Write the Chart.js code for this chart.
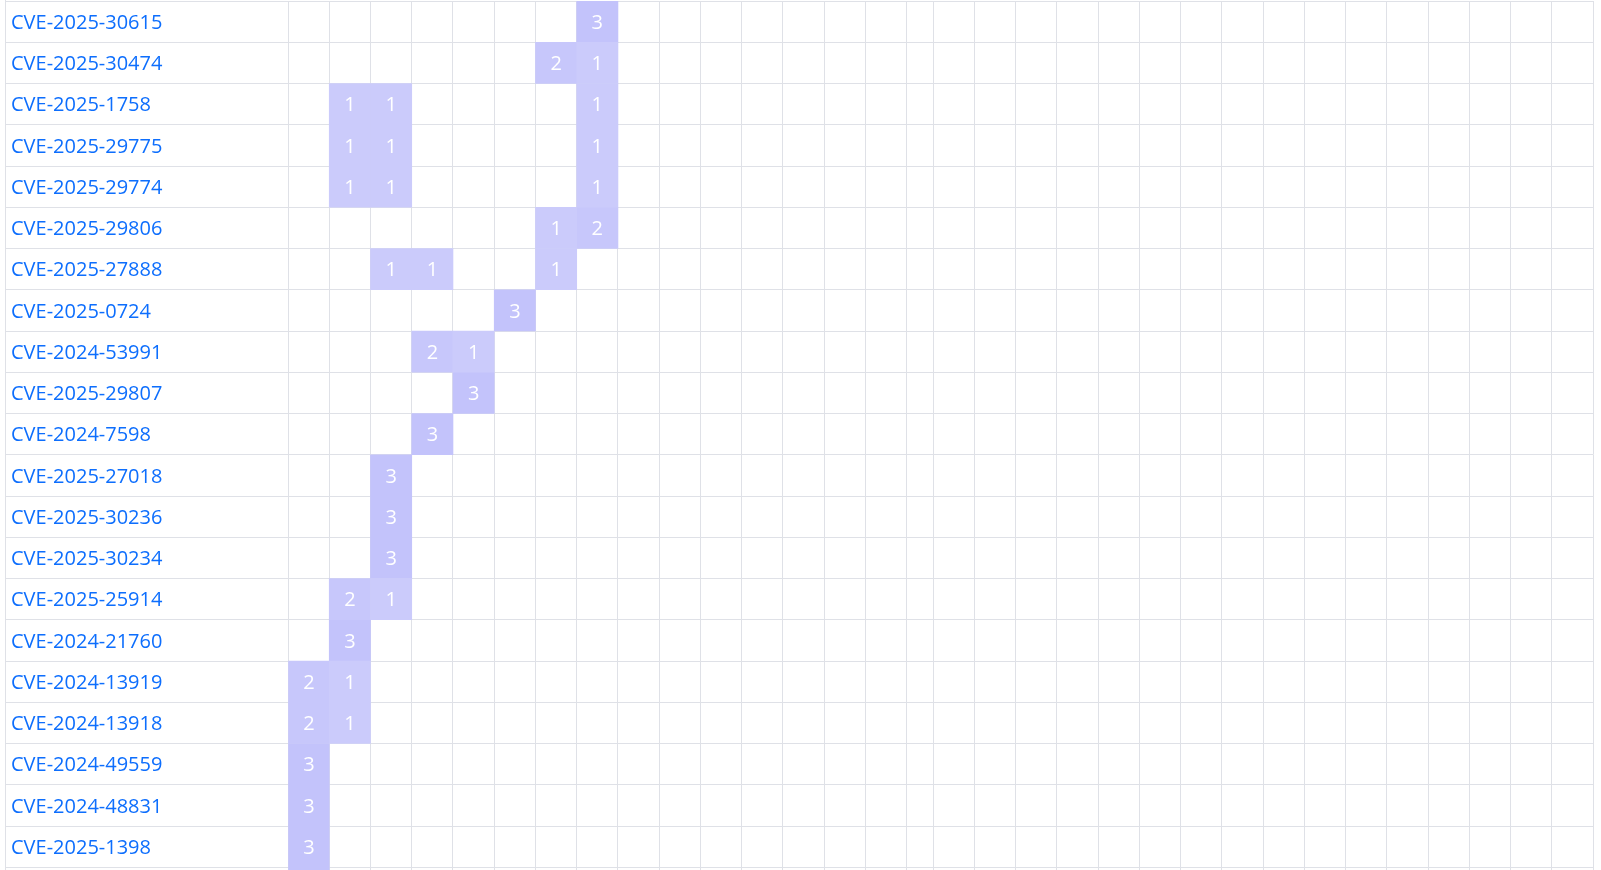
<!DOCTYPE html>
<html>
<head>
<meta charset="utf-8">
<script src="https://cdn.jsdelivr.net/npm/chart.js@4.4.1/dist/chart.umd.min.js"></script>
<style>
html,body{margin:0;padding:0;overflow:hidden;background:#ffffff;}
#wrap{position:relative;width:1601px;height:910px;}
</style>
</head>
<body>
<div id="wrap"><canvas id="c"></canvas></div>
<script>
// Row labels (top to bottom); the last row is only a sliver at the bottom edge
const cveLabels = [
  'CVE-2025-30615','CVE-2025-30474','CVE-2025-1758','CVE-2025-29775','CVE-2025-29774',
  'CVE-2025-29806','CVE-2025-27888','CVE-2025-0724','CVE-2024-53991','CVE-2025-29807',
  'CVE-2024-7598','CVE-2025-27018','CVE-2025-30236','CVE-2025-30234','CVE-2025-25914',
  'CVE-2024-21760','CVE-2024-13919','CVE-2024-13918','CVE-2024-49559','CVE-2024-48831',
  'CVE-2025-1398',''
];
// Column bin edges (one short bin)
const colEdges = [0,1,2,3,4,5,6,7,8,9,10,11,12,13,14,15,
  15.64,16.64,17.64,18.64,19.64,20.64,21.64,22.64,23.64,24.64,25.64,26.64,27.64,28.64,29.64,30.64,31.64];
// Cells: row index, column index, count
const cellRow   = [0,1,1,2,2,2,3,3,3,4,4,4,5,5,6,6,6,7,8,8,9,10,11,12,13,14,14,15,16,16,17,17,18,19,20,21];
const cellCol   = [7,6,7,1,2,7,1,2,7,1,2,7,6,7,2,3,6,5,3,4,4,3,2,2,2,1,2,1,0,1,0,1,0,0,0,0];
const cellCount = [3,2,1,1,1,1,1,1,1,1,1,1,1,2,1,1,1,3,2,1,3,3,3,3,3,2,1,3,2,1,2,1,3,3,3,3];
const countLevels = [1,2,3];
const countColors = ['#cbcbfb','#c7c7fb','#c3c3fb'];

const gridColor = '#dfe1e7';

const datasets = countLevels.map((lvl, k) => ({
  label: String(lvl),
  data: cellCount.map((c, i) => c === lvl ? {
    y: cveLabels[cellRow[i]],
    x: [colEdges[cellCol[i]], colEdges[cellCol[i] + 1]],
    v: c
  } : null).filter(d => d !== null),
  backgroundColor: countColors[k],
  borderWidth: 0,
  barPercentage: 1,
  categoryPercentage: 1,
  grouped: false
}));

const cellText = {
  id: 'cellText',
  afterDatasetsDraw(chart) {
    const ctx = chart.ctx;
    ctx.save();
    ctx.fillStyle = '#ffffff';
    ctx.font = '20px "Open Sans"';
    ctx.textAlign = 'center';
    ctx.textBaseline = 'middle';
    chart.data.datasets.forEach((ds, i) => {
      const meta = chart.getDatasetMeta(i);
      meta.data.forEach((el, j) => {
        const p = el.getCenterPoint();
        ctx.fillText(String(ds.data[j].v), p.x, p.y + 1.5);
      });
    });
    ctx.restore();
  }
};

const edgeLine = {
  id: 'edgeLine',
  afterDraw(chart) {
    const ys = chart.scales.y;
    const x = Math.round(ys.right - ys.options.grid.tickLength) + 0.5;
    const ctx = chart.ctx;
    ctx.save();
    ctx.strokeStyle = gridColor;
    ctx.lineWidth = 1;
    ctx.beginPath();
    ctx.moveTo(x, 0);
    ctx.lineTo(x, chart.chartArea.bottom);
    ctx.stroke();
    ctx.restore();
  }
};

new Chart(document.getElementById('c'), {
  type: 'bar',
  data: { labels: cveLabels, datasets },
  plugins: [cellText, edgeLine],
  options: {
    indexAxis: 'y',
    responsive: true,
    maintainAspectRatio: false,
    animation: false,
    layout: { padding: { left: 11, right: 8, top: 1, bottom: 1.5 } },
    plugins: { legend: { display: false }, tooltip: { enabled: false } },
    scales: {
      x: {
        type: 'linear',
        min: colEdges[0],
        max: colEdges[colEdges.length - 1],
        position: 'bottom',
        afterBuildTicks: s => { s.ticks = colEdges.map(v => ({ value: v })); },
        afterFit: s => { s.height = 0; s.paddingLeft = 0; s.paddingRight = 0; s.paddingTop = 0; s.paddingBottom = 0; },
        grid: { color: gridColor, lineWidth: 1, drawTicks: false },
        border: { display: true, color: gridColor },
        ticks: { display: false },
        z: 1
      },
      y: {
        type: 'category',
        offset: true,
        afterFit: s => { s.width = 277; s.paddingTop = 0; s.paddingBottom = 0; s.paddingLeft = 0; s.paddingRight = 0; },
        grid: { offset: true, color: gridColor, tickColor: gridColor, lineWidth: 1, drawTicks: true, tickLength: 283 },
        border: { display: true, color: gridColor },
        ticks: {
          crossAlign: 'far',
          padding: 0,
          labelOffset: 1.5,
          autoSkip: false,
          color: '#0d6efd',
          font: { family: '"Open Sans"', size: 20 }
        },
        z: 1
      }
    }
  }
});
</script>
</body>
</html>
